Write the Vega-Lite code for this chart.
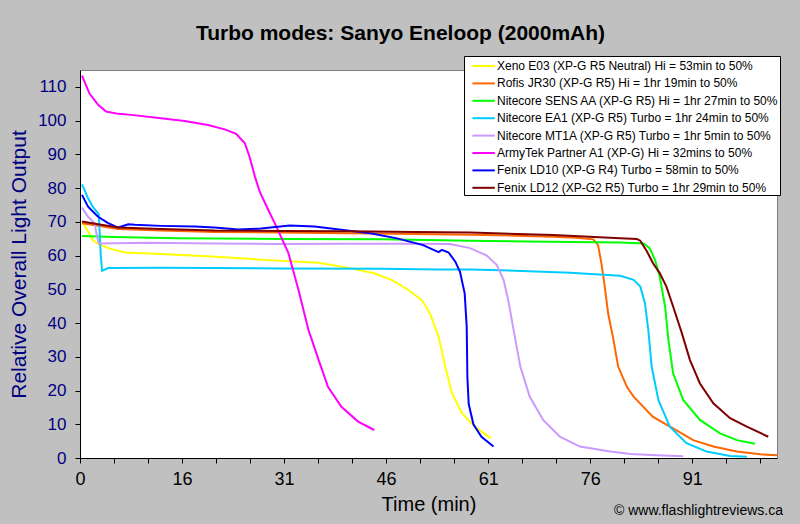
{
  "$schema": "https://vega.github.io/schema/vega-lite/v6.json",
  "width": 697,
  "height": 388,
  "autosize": {"type": "none"},
  "padding": {"left": 80, "top": 70, "right": 23, "bottom": 66},
  "background": "#c0c0c0",
  "config": {
    "font": "Liberation Sans",
    "view": {"fill": "white", "stroke": "#808080", "strokeWidth": 1},
    "axis": {"labelOverlap": false, "labelBound": false}
  },
  "title": {
    "text": "Turbo modes: Sanyo Eneloop (2000mAh)",
    "fontSize": 21,
    "fontWeight": "bold",
    "color": "black",
    "font": "Liberation Sans",
    "anchor": "middle",
    "dx": -28,
    "offset": 12
  },
  "layer": [
    {
      "data": {
        "values": [
          {"s": "Xeno E03 (XP-G R5 Neutral) Hi = 53min to 50%", "t": 0.3, "v": 70.1},
          {"s": "Xeno E03 (XP-G R5 Neutral) Hi = 53min to 50%", "t": 1.2, "v": 67.1},
          {"s": "Xeno E03 (XP-G R5 Neutral) Hi = 53min to 50%", "t": 1.9, "v": 64.6},
          {"s": "Xeno E03 (XP-G R5 Neutral) Hi = 53min to 50%", "t": 2.7, "v": 63.5},
          {"s": "Xeno E03 (XP-G R5 Neutral) Hi = 53min to 50%", "t": 4.2, "v": 62.2},
          {"s": "Xeno E03 (XP-G R5 Neutral) Hi = 53min to 50%", "t": 6.7, "v": 60.9},
          {"s": "Xeno E03 (XP-G R5 Neutral) Hi = 53min to 50%", "t": 12.1, "v": 60.5},
          {"s": "Xeno E03 (XP-G R5 Neutral) Hi = 53min to 50%", "t": 19.6, "v": 59.7},
          {"s": "Xeno E03 (XP-G R5 Neutral) Hi = 53min to 50%", "t": 29.3, "v": 58.5},
          {"s": "Xeno E03 (XP-G R5 Neutral) Hi = 53min to 50%", "t": 35.6, "v": 57.9},
          {"s": "Xeno E03 (XP-G R5 Neutral) Hi = 53min to 50%", "t": 40.5, "v": 56.2},
          {"s": "Xeno E03 (XP-G R5 Neutral) Hi = 53min to 50%", "t": 44.0, "v": 54.7},
          {"s": "Xeno E03 (XP-G R5 Neutral) Hi = 53min to 50%", "t": 46.5, "v": 52.8},
          {"s": "Xeno E03 (XP-G R5 Neutral) Hi = 53min to 50%", "t": 49.0, "v": 49.8},
          {"s": "Xeno E03 (XP-G R5 Neutral) Hi = 53min to 50%", "t": 51.0, "v": 46.8},
          {"s": "Xeno E03 (XP-G R5 Neutral) Hi = 53min to 50%", "t": 52.2, "v": 42.9},
          {"s": "Xeno E03 (XP-G R5 Neutral) Hi = 53min to 50%", "t": 53.5, "v": 36.0},
          {"s": "Xeno E03 (XP-G R5 Neutral) Hi = 53min to 50%", "t": 54.5, "v": 27.1},
          {"s": "Xeno E03 (XP-G R5 Neutral) Hi = 53min to 50%", "t": 55.5, "v": 19.2},
          {"s": "Xeno E03 (XP-G R5 Neutral) Hi = 53min to 50%", "t": 57.0, "v": 13.3},
          {"s": "Xeno E03 (XP-G R5 Neutral) Hi = 53min to 50%", "t": 58.9, "v": 9.3},
          {"s": "Xeno E03 (XP-G R5 Neutral) Hi = 53min to 50%", "t": 61.3, "v": 5.8},

          {"s": "Rofis JR30 (XP-G R5) Hi = 1hr 19min to 50%", "t": 0.3, "v": 69.6},
          {"s": "Rofis JR30 (XP-G R5) Hi = 1hr 19min to 50%", "t": 2.7, "v": 68.8},
          {"s": "Rofis JR30 (XP-G R5) Hi = 1hr 19min to 50%", "t": 5.7, "v": 67.9},
          {"s": "Rofis JR30 (XP-G R5) Hi = 1hr 19min to 50%", "t": 12.1, "v": 67.4},
          {"s": "Rofis JR30 (XP-G R5) Hi = 1hr 19min to 50%", "t": 20.1, "v": 67.0},
          {"s": "Rofis JR30 (XP-G R5) Hi = 1hr 19min to 50%", "t": 30.0, "v": 66.8},
          {"s": "Rofis JR30 (XP-G R5) Hi = 1hr 19min to 50%", "t": 40.0, "v": 66.6},
          {"s": "Rofis JR30 (XP-G R5) Hi = 1hr 19min to 50%", "t": 50.0, "v": 66.4},
          {"s": "Rofis JR30 (XP-G R5) Hi = 1hr 19min to 50%", "t": 58.2, "v": 66.2},
          {"s": "Rofis JR30 (XP-G R5) Hi = 1hr 19min to 50%", "t": 65.0, "v": 65.9},
          {"s": "Rofis JR30 (XP-G R5) Hi = 1hr 19min to 50%", "t": 70.6, "v": 65.6},
          {"s": "Rofis JR30 (XP-G R5) Hi = 1hr 19min to 50%", "t": 74.0, "v": 65.3},
          {"s": "Rofis JR30 (XP-G R5) Hi = 1hr 19min to 50%", "t": 76.6, "v": 64.8},
          {"s": "Rofis JR30 (XP-G R5) Hi = 1hr 19min to 50%", "t": 77.3, "v": 63.1},
          {"s": "Rofis JR30 (XP-G R5) Hi = 1hr 19min to 50%", "t": 77.8, "v": 57.7},
          {"s": "Rofis JR30 (XP-G R5) Hi = 1hr 19min to 50%", "t": 78.3, "v": 50.8},
          {"s": "Rofis JR30 (XP-G R5) Hi = 1hr 19min to 50%", "t": 78.8, "v": 42.9},
          {"s": "Rofis JR30 (XP-G R5) Hi = 1hr 19min to 50%", "t": 79.6, "v": 35.0},
          {"s": "Rofis JR30 (XP-G R5) Hi = 1hr 19min to 50%", "t": 80.3, "v": 27.1},
          {"s": "Rofis JR30 (XP-G R5) Hi = 1hr 19min to 50%", "t": 81.6, "v": 21.1},
          {"s": "Rofis JR30 (XP-G R5) Hi = 1hr 19min to 50%", "t": 82.6, "v": 18.2},
          {"s": "Rofis JR30 (XP-G R5) Hi = 1hr 19min to 50%", "t": 85.5, "v": 12.2},
          {"s": "Rofis JR30 (XP-G R5) Hi = 1hr 19min to 50%", "t": 88.5, "v": 8.8},
          {"s": "Rofis JR30 (XP-G R5) Hi = 1hr 19min to 50%", "t": 91.5, "v": 5.3},
          {"s": "Rofis JR30 (XP-G R5) Hi = 1hr 19min to 50%", "t": 94.5, "v": 3.4},
          {"s": "Rofis JR30 (XP-G R5) Hi = 1hr 19min to 50%", "t": 98.0, "v": 1.9},
          {"s": "Rofis JR30 (XP-G R5) Hi = 1hr 19min to 50%", "t": 101.5, "v": 1.1},
          {"s": "Rofis JR30 (XP-G R5) Hi = 1hr 19min to 50%", "t": 104.0, "v": 0.8},

          {"s": "Nitecore SENS AA (XP-G R5) Hi = 1hr 27min to 50%", "t": 0.3, "v": 65.8},
          {"s": "Nitecore SENS AA (XP-G R5) Hi = 1hr 27min to 50%", "t": 5.0, "v": 65.5},
          {"s": "Nitecore SENS AA (XP-G R5) Hi = 1hr 27min to 50%", "t": 14.6, "v": 65.1},
          {"s": "Nitecore SENS AA (XP-G R5) Hi = 1hr 27min to 50%", "t": 30.0, "v": 64.9},
          {"s": "Nitecore SENS AA (XP-G R5) Hi = 1hr 27min to 50%", "t": 45.0, "v": 64.8},
          {"s": "Nitecore SENS AA (XP-G R5) Hi = 1hr 27min to 50%", "t": 58.2, "v": 64.4},
          {"s": "Nitecore SENS AA (XP-G R5) Hi = 1hr 27min to 50%", "t": 70.0, "v": 64.1},
          {"s": "Nitecore SENS AA (XP-G R5) Hi = 1hr 27min to 50%", "t": 80.6, "v": 63.9},
          {"s": "Nitecore SENS AA (XP-G R5) Hi = 1hr 27min to 50%", "t": 84.1, "v": 63.6},
          {"s": "Nitecore SENS AA (XP-G R5) Hi = 1hr 27min to 50%", "t": 85.0, "v": 62.2},
          {"s": "Nitecore SENS AA (XP-G R5) Hi = 1hr 27min to 50%", "t": 85.8, "v": 58.7},
          {"s": "Nitecore SENS AA (XP-G R5) Hi = 1hr 27min to 50%", "t": 86.5, "v": 53.8},
          {"s": "Nitecore SENS AA (XP-G R5) Hi = 1hr 27min to 50%", "t": 87.3, "v": 44.9},
          {"s": "Nitecore SENS AA (XP-G R5) Hi = 1hr 27min to 50%", "t": 87.8, "v": 35.0},
          {"s": "Nitecore SENS AA (XP-G R5) Hi = 1hr 27min to 50%", "t": 88.5, "v": 25.1},
          {"s": "Nitecore SENS AA (XP-G R5) Hi = 1hr 27min to 50%", "t": 90.0, "v": 17.2},
          {"s": "Nitecore SENS AA (XP-G R5) Hi = 1hr 27min to 50%", "t": 92.5, "v": 11.3},
          {"s": "Nitecore SENS AA (XP-G R5) Hi = 1hr 27min to 50%", "t": 95.5, "v": 7.3},
          {"s": "Nitecore SENS AA (XP-G R5) Hi = 1hr 27min to 50%", "t": 98.0, "v": 5.3},
          {"s": "Nitecore SENS AA (XP-G R5) Hi = 1hr 27min to 50%", "t": 100.7, "v": 4.2},

          {"s": "Nitecore EA1 (XP-G R5) Turbo = 1hr 24min to 50%", "t": 0.3, "v": 81.1},
          {"s": "Nitecore EA1 (XP-G R5) Turbo = 1hr 24min to 50%", "t": 1.2, "v": 77.0},
          {"s": "Nitecore EA1 (XP-G R5) Turbo = 1hr 24min to 50%", "t": 1.9, "v": 74.5},
          {"s": "Nitecore EA1 (XP-G R5) Turbo = 1hr 24min to 50%", "t": 2.8, "v": 72.3},
          {"s": "Nitecore EA1 (XP-G R5) Turbo = 1hr 24min to 50%", "t": 3.1, "v": 60.0},
          {"s": "Nitecore EA1 (XP-G R5) Turbo = 1hr 24min to 50%", "t": 3.3, "v": 55.5},
          {"s": "Nitecore EA1 (XP-G R5) Turbo = 1hr 24min to 50%", "t": 4.2, "v": 56.3},
          {"s": "Nitecore EA1 (XP-G R5) Turbo = 1hr 24min to 50%", "t": 12.0, "v": 56.4},
          {"s": "Nitecore EA1 (XP-G R5) Turbo = 1hr 24min to 50%", "t": 20.0, "v": 56.3},
          {"s": "Nitecore EA1 (XP-G R5) Turbo = 1hr 24min to 50%", "t": 30.0, "v": 56.2},
          {"s": "Nitecore EA1 (XP-G R5) Turbo = 1hr 24min to 50%", "t": 45.0, "v": 56.1},
          {"s": "Nitecore EA1 (XP-G R5) Turbo = 1hr 24min to 50%", "t": 53.5, "v": 55.9},
          {"s": "Nitecore EA1 (XP-G R5) Turbo = 1hr 24min to 50%", "t": 58.2, "v": 55.9},
          {"s": "Nitecore EA1 (XP-G R5) Turbo = 1hr 24min to 50%", "t": 65.0, "v": 55.5},
          {"s": "Nitecore EA1 (XP-G R5) Turbo = 1hr 24min to 50%", "t": 73.1, "v": 54.9},
          {"s": "Nitecore EA1 (XP-G R5) Turbo = 1hr 24min to 50%", "t": 78.1, "v": 54.3},
          {"s": "Nitecore EA1 (XP-G R5) Turbo = 1hr 24min to 50%", "t": 80.6, "v": 54.0},
          {"s": "Nitecore EA1 (XP-G R5) Turbo = 1hr 24min to 50%", "t": 82.6, "v": 52.8},
          {"s": "Nitecore EA1 (XP-G R5) Turbo = 1hr 24min to 50%", "t": 83.6, "v": 50.8},
          {"s": "Nitecore EA1 (XP-G R5) Turbo = 1hr 24min to 50%", "t": 84.3, "v": 45.9},
          {"s": "Nitecore EA1 (XP-G R5) Turbo = 1hr 24min to 50%", "t": 84.8, "v": 37.9},
          {"s": "Nitecore EA1 (XP-G R5) Turbo = 1hr 24min to 50%", "t": 85.3, "v": 27.1},
          {"s": "Nitecore EA1 (XP-G R5) Turbo = 1hr 24min to 50%", "t": 86.3, "v": 17.2},
          {"s": "Nitecore EA1 (XP-G R5) Turbo = 1hr 24min to 50%", "t": 88.0, "v": 9.3},
          {"s": "Nitecore EA1 (XP-G R5) Turbo = 1hr 24min to 50%", "t": 90.5, "v": 4.4},
          {"s": "Nitecore EA1 (XP-G R5) Turbo = 1hr 24min to 50%", "t": 93.5, "v": 1.9},
          {"s": "Nitecore EA1 (XP-G R5) Turbo = 1hr 24min to 50%", "t": 97.0, "v": 0.6},
          {"s": "Nitecore EA1 (XP-G R5) Turbo = 1hr 24min to 50%", "t": 99.5, "v": 0.4},

          {"s": "Nitecore MT1A (XP-G R5) Turbo = 1hr 5min to 50%", "t": 0.3, "v": 74.2},
          {"s": "Nitecore MT1A (XP-G R5) Turbo = 1hr 5min to 50%", "t": 1.2, "v": 71.5},
          {"s": "Nitecore MT1A (XP-G R5) Turbo = 1hr 5min to 50%", "t": 2.2, "v": 69.6},
          {"s": "Nitecore MT1A (XP-G R5) Turbo = 1hr 5min to 50%", "t": 2.5, "v": 66.0},
          {"s": "Nitecore MT1A (XP-G R5) Turbo = 1hr 5min to 50%", "t": 2.8, "v": 63.6},
          {"s": "Nitecore MT1A (XP-G R5) Turbo = 1hr 5min to 50%", "t": 10.0, "v": 63.8},
          {"s": "Nitecore MT1A (XP-G R5) Turbo = 1hr 5min to 50%", "t": 20.0, "v": 63.6},
          {"s": "Nitecore MT1A (XP-G R5) Turbo = 1hr 5min to 50%", "t": 29.3, "v": 63.4},
          {"s": "Nitecore MT1A (XP-G R5) Turbo = 1hr 5min to 50%", "t": 40.0, "v": 63.5},
          {"s": "Nitecore MT1A (XP-G R5) Turbo = 1hr 5min to 50%", "t": 50.0, "v": 63.5},
          {"s": "Nitecore MT1A (XP-G R5) Turbo = 1hr 5min to 50%", "t": 55.2, "v": 63.4},
          {"s": "Nitecore MT1A (XP-G R5) Turbo = 1hr 5min to 50%", "t": 58.2, "v": 62.2},
          {"s": "Nitecore MT1A (XP-G R5) Turbo = 1hr 5min to 50%", "t": 60.7, "v": 60.0},
          {"s": "Nitecore MT1A (XP-G R5) Turbo = 1hr 5min to 50%", "t": 62.2, "v": 57.2},
          {"s": "Nitecore MT1A (XP-G R5) Turbo = 1hr 5min to 50%", "t": 63.2, "v": 52.8},
          {"s": "Nitecore MT1A (XP-G R5) Turbo = 1hr 5min to 50%", "t": 63.9, "v": 46.8},
          {"s": "Nitecore MT1A (XP-G R5) Turbo = 1hr 5min to 50%", "t": 64.7, "v": 37.9},
          {"s": "Nitecore MT1A (XP-G R5) Turbo = 1hr 5min to 50%", "t": 65.7, "v": 27.1},
          {"s": "Nitecore MT1A (XP-G R5) Turbo = 1hr 5min to 50%", "t": 67.1, "v": 18.2},
          {"s": "Nitecore MT1A (XP-G R5) Turbo = 1hr 5min to 50%", "t": 69.1, "v": 11.3},
          {"s": "Nitecore MT1A (XP-G R5) Turbo = 1hr 5min to 50%", "t": 71.6, "v": 6.3},
          {"s": "Nitecore MT1A (XP-G R5) Turbo = 1hr 5min to 50%", "t": 74.6, "v": 3.4},
          {"s": "Nitecore MT1A (XP-G R5) Turbo = 1hr 5min to 50%", "t": 79.1, "v": 1.9},
          {"s": "Nitecore MT1A (XP-G R5) Turbo = 1hr 5min to 50%", "t": 82.1, "v": 1.2},
          {"s": "Nitecore MT1A (XP-G R5) Turbo = 1hr 5min to 50%", "t": 86.0, "v": 0.8},
          {"s": "Nitecore MT1A (XP-G R5) Turbo = 1hr 5min to 50%", "t": 90.0, "v": 0.5},

          {"s": "ArmyTek Partner A1 (XP-G) Hi = 32mins to 50%", "t": 0.3, "v": 113.3},
          {"s": "ArmyTek Partner A1 (XP-G) Hi = 32mins to 50%", "t": 1.4, "v": 108.1},
          {"s": "ArmyTek Partner A1 (XP-G) Hi = 32mins to 50%", "t": 2.7, "v": 104.7},
          {"s": "ArmyTek Partner A1 (XP-G) Hi = 32mins to 50%", "t": 3.9, "v": 102.7},
          {"s": "ArmyTek Partner A1 (XP-G) Hi = 32mins to 50%", "t": 5.7, "v": 102.0},
          {"s": "ArmyTek Partner A1 (XP-G) Hi = 32mins to 50%", "t": 7.7, "v": 101.7},
          {"s": "ArmyTek Partner A1 (XP-G) Hi = 32mins to 50%", "t": 12.1, "v": 100.7},
          {"s": "ArmyTek Partner A1 (XP-G) Hi = 32mins to 50%", "t": 15.6, "v": 99.9},
          {"s": "ArmyTek Partner A1 (XP-G) Hi = 32mins to 50%", "t": 19.1, "v": 98.7},
          {"s": "ArmyTek Partner A1 (XP-G) Hi = 32mins to 50%", "t": 21.6, "v": 97.4},
          {"s": "ArmyTek Partner A1 (XP-G) Hi = 32mins to 50%", "t": 23.3, "v": 96.1},
          {"s": "ArmyTek Partner A1 (XP-G) Hi = 32mins to 50%", "t": 24.6, "v": 93.3},
          {"s": "ArmyTek Partner A1 (XP-G) Hi = 32mins to 50%", "t": 25.3, "v": 89.3},
          {"s": "ArmyTek Partner A1 (XP-G) Hi = 32mins to 50%", "t": 26.1, "v": 83.4},
          {"s": "ArmyTek Partner A1 (XP-G) Hi = 32mins to 50%", "t": 26.8, "v": 79.0},
          {"s": "ArmyTek Partner A1 (XP-G) Hi = 32mins to 50%", "t": 28.1, "v": 73.5},
          {"s": "ArmyTek Partner A1 (XP-G) Hi = 32mins to 50%", "t": 29.3, "v": 68.6},
          {"s": "ArmyTek Partner A1 (XP-G) Hi = 32mins to 50%", "t": 31.1, "v": 60.7},
          {"s": "ArmyTek Partner A1 (XP-G) Hi = 32mins to 50%", "t": 32.6, "v": 49.8},
          {"s": "ArmyTek Partner A1 (XP-G) Hi = 32mins to 50%", "t": 34.1, "v": 37.9},
          {"s": "ArmyTek Partner A1 (XP-G) Hi = 32mins to 50%", "t": 35.6, "v": 29.1},
          {"s": "ArmyTek Partner A1 (XP-G) Hi = 32mins to 50%", "t": 37.0, "v": 21.1},
          {"s": "ArmyTek Partner A1 (XP-G) Hi = 32mins to 50%", "t": 39.0, "v": 15.2},
          {"s": "ArmyTek Partner A1 (XP-G) Hi = 32mins to 50%", "t": 41.5, "v": 10.8},
          {"s": "ArmyTek Partner A1 (XP-G) Hi = 32mins to 50%", "t": 43.9, "v": 8.3},

          {"s": "Fenix LD10 (XP-G R4) Turbo = 58min to 50%", "t": 0.3, "v": 78.0},
          {"s": "Fenix LD10 (XP-G R4) Turbo = 58min to 50%", "t": 1.2, "v": 74.5},
          {"s": "Fenix LD10 (XP-G R4) Turbo = 58min to 50%", "t": 2.7, "v": 71.5},
          {"s": "Fenix LD10 (XP-G R4) Turbo = 58min to 50%", "t": 4.2, "v": 69.6},
          {"s": "Fenix LD10 (XP-G R4) Turbo = 58min to 50%", "t": 5.7, "v": 68.3},
          {"s": "Fenix LD10 (XP-G R4) Turbo = 58min to 50%", "t": 7.2, "v": 69.3},
          {"s": "Fenix LD10 (XP-G R4) Turbo = 58min to 50%", "t": 8.2, "v": 69.1},
          {"s": "Fenix LD10 (XP-G R4) Turbo = 58min to 50%", "t": 12.1, "v": 68.8},
          {"s": "Fenix LD10 (XP-G R4) Turbo = 58min to 50%", "t": 17.1, "v": 68.6},
          {"s": "Fenix LD10 (XP-G R4) Turbo = 58min to 50%", "t": 20.1, "v": 68.3},
          {"s": "Fenix LD10 (XP-G R4) Turbo = 58min to 50%", "t": 23.6, "v": 67.7},
          {"s": "Fenix LD10 (XP-G R4) Turbo = 58min to 50%", "t": 27.0, "v": 68.0},
          {"s": "Fenix LD10 (XP-G R4) Turbo = 58min to 50%", "t": 31.3, "v": 68.9},
          {"s": "Fenix LD10 (XP-G R4) Turbo = 58min to 50%", "t": 35.0, "v": 68.6},
          {"s": "Fenix LD10 (XP-G R4) Turbo = 58min to 50%", "t": 39.3, "v": 67.6},
          {"s": "Fenix LD10 (XP-G R4) Turbo = 58min to 50%", "t": 43.3, "v": 66.6},
          {"s": "Fenix LD10 (XP-G R4) Turbo = 58min to 50%", "t": 47.3, "v": 65.1},
          {"s": "Fenix LD10 (XP-G R4) Turbo = 58min to 50%", "t": 51.2, "v": 63.1},
          {"s": "Fenix LD10 (XP-G R4) Turbo = 58min to 50%", "t": 53.5, "v": 61.0},
          {"s": "Fenix LD10 (XP-G R4) Turbo = 58min to 50%", "t": 54.0, "v": 61.7},
          {"s": "Fenix LD10 (XP-G R4) Turbo = 58min to 50%", "t": 55.0, "v": 60.9},
          {"s": "Fenix LD10 (XP-G R4) Turbo = 58min to 50%", "t": 56.0, "v": 58.2},
          {"s": "Fenix LD10 (XP-G R4) Turbo = 58min to 50%", "t": 56.7, "v": 55.2},
          {"s": "Fenix LD10 (XP-G R4) Turbo = 58min to 50%", "t": 57.4, "v": 48.8},
          {"s": "Fenix LD10 (XP-G R4) Turbo = 58min to 50%", "t": 57.7, "v": 38.9},
          {"s": "Fenix LD10 (XP-G R4) Turbo = 58min to 50%", "t": 57.8, "v": 24.1},
          {"s": "Fenix LD10 (XP-G R4) Turbo = 58min to 50%", "t": 58.0, "v": 16.0},
          {"s": "Fenix LD10 (XP-G R4) Turbo = 58min to 50%", "t": 58.7, "v": 10.0},
          {"s": "Fenix LD10 (XP-G R4) Turbo = 58min to 50%", "t": 59.9, "v": 6.3},
          {"s": "Fenix LD10 (XP-G R4) Turbo = 58min to 50%", "t": 61.7, "v": 3.4},

          {"s": "Fenix LD12 (XP-G2 R5) Turbo = 1hr 29min to 50%", "t": 0.3, "v": 70.1},
          {"s": "Fenix LD12 (XP-G2 R5) Turbo = 1hr 29min to 50%", "t": 2.7, "v": 69.3},
          {"s": "Fenix LD12 (XP-G2 R5) Turbo = 1hr 29min to 50%", "t": 5.7, "v": 68.3},
          {"s": "Fenix LD12 (XP-G2 R5) Turbo = 1hr 29min to 50%", "t": 12.1, "v": 67.9},
          {"s": "Fenix LD12 (XP-G2 R5) Turbo = 1hr 29min to 50%", "t": 20.1, "v": 67.4},
          {"s": "Fenix LD12 (XP-G2 R5) Turbo = 1hr 29min to 50%", "t": 30.0, "v": 67.3},
          {"s": "Fenix LD12 (XP-G2 R5) Turbo = 1hr 29min to 50%", "t": 40.0, "v": 67.2},
          {"s": "Fenix LD12 (XP-G2 R5) Turbo = 1hr 29min to 50%", "t": 50.0, "v": 67.0},
          {"s": "Fenix LD12 (XP-G2 R5) Turbo = 1hr 29min to 50%", "t": 58.2, "v": 66.8},
          {"s": "Fenix LD12 (XP-G2 R5) Turbo = 1hr 29min to 50%", "t": 70.6, "v": 66.1},
          {"s": "Fenix LD12 (XP-G2 R5) Turbo = 1hr 29min to 50%", "t": 80.6, "v": 65.1},
          {"s": "Fenix LD12 (XP-G2 R5) Turbo = 1hr 29min to 50%", "t": 83.1, "v": 64.9},
          {"s": "Fenix LD12 (XP-G2 R5) Turbo = 1hr 29min to 50%", "t": 83.6, "v": 64.4},
          {"s": "Fenix LD12 (XP-G2 R5) Turbo = 1hr 29min to 50%", "t": 84.6, "v": 61.2},
          {"s": "Fenix LD12 (XP-G2 R5) Turbo = 1hr 29min to 50%", "t": 85.5, "v": 57.7},
          {"s": "Fenix LD12 (XP-G2 R5) Turbo = 1hr 29min to 50%", "t": 86.5, "v": 54.8},
          {"s": "Fenix LD12 (XP-G2 R5) Turbo = 1hr 29min to 50%", "t": 87.5, "v": 50.8},
          {"s": "Fenix LD12 (XP-G2 R5) Turbo = 1hr 29min to 50%", "t": 88.5, "v": 44.9},
          {"s": "Fenix LD12 (XP-G2 R5) Turbo = 1hr 29min to 50%", "t": 89.8, "v": 37.0},
          {"s": "Fenix LD12 (XP-G2 R5) Turbo = 1hr 29min to 50%", "t": 91.0, "v": 29.1},
          {"s": "Fenix LD12 (XP-G2 R5) Turbo = 1hr 29min to 50%", "t": 92.5, "v": 22.1},
          {"s": "Fenix LD12 (XP-G2 R5) Turbo = 1hr 29min to 50%", "t": 94.5, "v": 16.2},
          {"s": "Fenix LD12 (XP-G2 R5) Turbo = 1hr 29min to 50%", "t": 97.0, "v": 11.8},
          {"s": "Fenix LD12 (XP-G2 R5) Turbo = 1hr 29min to 50%", "t": 99.5, "v": 9.3},
          {"s": "Fenix LD12 (XP-G2 R5) Turbo = 1hr 29min to 50%", "t": 102.7, "v": 6.3}
        ]
      },
      "mark": {"type": "line", "strokeWidth": 2, "interpolate": "linear"},
      "encoding": {
        "x": {
          "field": "t",
          "type": "quantitative",
          "scale": {"domain": [0, 104], "nice": false, "zero": false},
          "axis": {
            "title": "Time (min)",
            "titleFontSize": 20,
            "titleFontWeight": "normal",
            "titleColor": "black",
            "titleFont": "Liberation Sans",
            "titlePadding": 6,
            "values": [0, 5.075, 10.15, 15.225, 20.3, 25.375, 30.45, 35.525, 40.6, 45.675, 50.75, 55.825, 60.9, 65.975, 71.05, 76.125, 81.2, 86.275, 91.35, 96.425, 101.5],
            "tickCount": 50,
            "labelExpr": "round(datum.value/5.075) % 3 == 0 ? ['0','16','31','46','61','76','91'][round(datum.value/5.075)/3] : ''",
            "labelFontSize": 18,
            "labelColor": "black",
            "labelFont": "Liberation Sans",
            "labelPadding": 7,
            "labelOverlap": false,
            "labelBound": false,
            "labelFlush": false,
            "tickSize": 5,
            "tickColor": "black",
            "domainColor": "black",
            "grid": false
          }
        },
        "y": {
          "field": "v",
          "type": "quantitative",
          "scale": {"domain": [0, 115], "nice": false, "zero": true},
          "axis": {
            "title": "Relative Overall Light Output",
            "titleFontSize": 21,
            "titleFontWeight": "normal",
            "titleColor": "#000080",
            "titleFont": "Liberation Sans",
            "titlePadding": 8,
            "values": [0, 10, 20, 30, 40, 50, 60, 70, 80, 90, 100, 110],
            "tickCount": 50,
            "labelFontSize": 17,
            "labelColor": "#000080",
            "labelFont": "Liberation Sans",
            "labelPadding": 9,
            "labelOverlap": false,
            "labelBound": false,
            "tickSize": 5,
            "tickColor": "black",
            "domainColor": "black",
            "grid": false
          }
        },
        "color": {
          "field": "s",
          "type": "nominal",
          "scale": {
            "domain": [
              "Xeno E03 (XP-G R5 Neutral) Hi = 53min to 50%",
              "Rofis JR30 (XP-G R5) Hi = 1hr 19min to 50%",
              "Nitecore SENS AA (XP-G R5) Hi = 1hr 27min to 50%",
              "Nitecore EA1 (XP-G R5) Turbo = 1hr 24min to 50%",
              "Nitecore MT1A (XP-G R5) Turbo = 1hr 5min to 50%",
              "ArmyTek Partner A1 (XP-G) Hi = 32mins to 50%",
              "Fenix LD10 (XP-G R4) Turbo = 58min to 50%",
              "Fenix LD12 (XP-G2 R5) Turbo = 1hr 29min to 50%"
            ],
            "range": ["#FFFF00", "#FF6600", "#00FF00", "#00CCFF", "#CC99FF", "#FF00FF", "#0000FF", "#800000"]
          },
          "legend": {
            "orient": "none",
            "legendX": 384,
            "legendY": -14,
            "title": null,
            "fillColor": "white",
            "strokeColor": "black",
            "padding": 1,
            "symbolType": "M-0.2,0L2.6,0",
            "symbolSize": 256,
            "symbolStrokeWidth": 2,
            "labelFontSize": 12,
            "labelFont": "Liberation Sans",
            "labelColor": "black",
            "labelLimit": 400,
            "labelOffset": 14,
            "rowPadding": 2.4
          }
        }
      }
    },
    {
      "data": {"values": [{}]},
      "mark": {"type": "text", "align": "right", "baseline": "middle", "fontSize": 14, "font": "Liberation Sans", "color": "black", "dx": 6},
      "encoding": {
        "x": {"datum": 104},
        "y": {"datum": -15.7},
        "text": {"value": "© www.flashlightreviews.ca"}
      }
    }
  ]
}
